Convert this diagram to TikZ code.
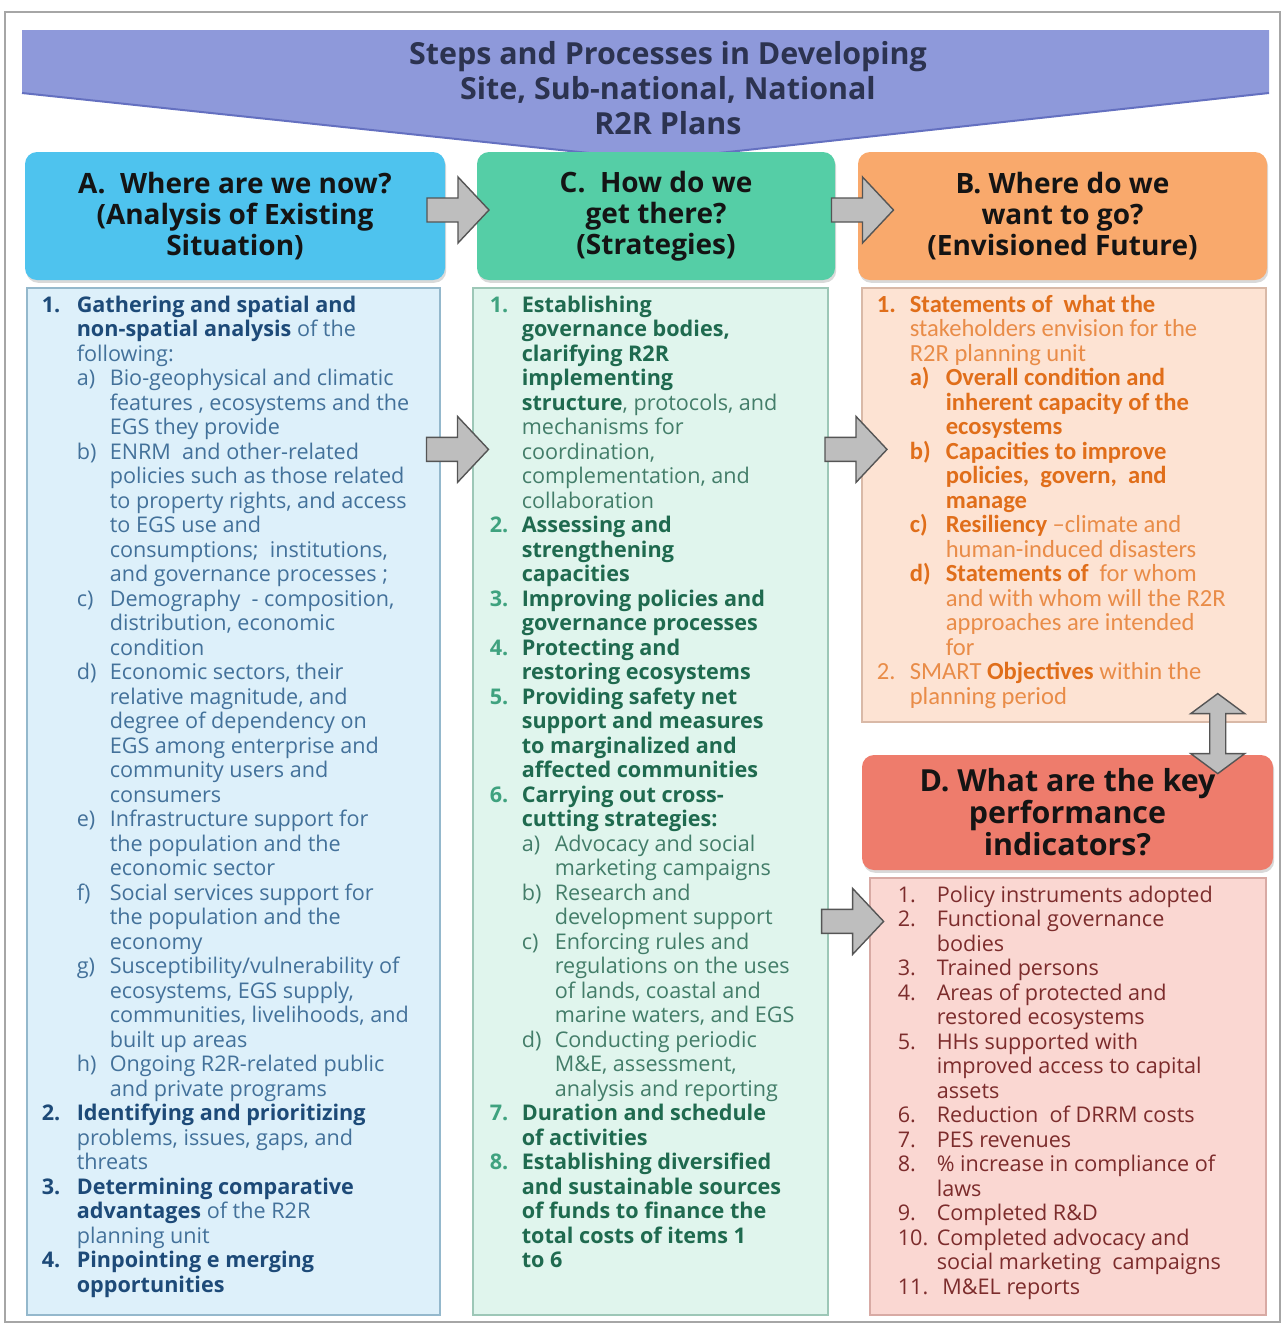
\documentclass[tikz,border=0pt]{standalone}
\usepackage{fontspec,xcolor}
\setmainfont{Open Sans}
\newfontfamily\calfont{Carlito}
\usetikzlibrary{calc, shadows}

\definecolor{bannerfill}{HTML}{8E99DA}
\definecolor{bannerline}{HTML}{6470C0}
\definecolor{titletext}{HTML}{2C3350}
\definecolor{hAfill}{HTML}{4EC3EE}
\definecolor{hCfill}{HTML}{55CEA6}
\definecolor{hBfill}{HTML}{F9A96C}
\definecolor{hDfill}{HTML}{EE7C6C}
\definecolor{bAfill}{HTML}{DDF0FA}
\definecolor{bAline}{HTML}{94B8CC}
\definecolor{bCfill}{HTML}{E0F5ED}
\definecolor{bCline}{HTML}{9DC7B7}
\definecolor{bBfill}{HTML}{FDE3D3}
\definecolor{bBline}{HTML}{D9B9A7}
\definecolor{bDfill}{HTML}{FAD7D2}
\definecolor{bDline}{HTML}{D8AAA4}
\definecolor{Adark}{HTML}{1D4A78}
\definecolor{Alight}{HTML}{43719A}
\definecolor{Cdark}{HTML}{1F6A4F}
\definecolor{Clight}{HTML}{437D69}
\definecolor{Cnum}{HTML}{3FA27F}
\definecolor{Bdark}{HTML}{E06E1A}
\definecolor{Blight}{HTML}{E98C48}
\definecolor{Dtext}{HTML}{7C2C2C}
\definecolor{arrowfill}{HTML}{BEBEBE}
\definecolor{arrowline}{HTML}{555555}
\colorlet{strong}{black}

\newlength{\nw}
\newlength{\sw}
\newcommand{\hl}[1]{{\bfseries\color{strong}#1}}
\newcommand{\numbold}[1]{\hl{#1}}
\newcommand{\numgreen}[1]{{\bfseries\color{Cnum}#1}}
\newcommand{\numplain}[1]{#1}
\let\numstyle\numplain
\newcommand{\nI}[2]{\makebox[\nw][l]{\numstyle{#1}}#2}
\newcommand{\nC}[1]{\hspace*{\nw}#1}
\newcommand{\sI}[2]{\hspace*{\nw}\makebox[\sw][l]{#1}#2}
\newcommand{\sC}[1]{\hspace*{\nw}\hspace*{\sw}#1}

\tikzset{
  hdr/.style={rounded corners=6pt, minimum height=64pt, align=center, text=black!92,
    font=\bfseries\fontsize{14}{15.5}\selectfont,
    drop shadow={shadow xshift=.6pt, shadow yshift=-1.4pt, opacity=.3}},
  bodybox/.style={draw, line width=.6pt, inner sep=0pt},
  listtext/.style={anchor=north west, inner sep=0pt, align=left,
    font=\fontsize{10.8}{12.25}\selectfont},
  listA/.style={listtext, text=Alight, execute at begin node={%
    \setlength{\nw}{17.5pt}\setlength{\sw}{16.5pt}\colorlet{strong}{Adark}\let\numstyle\numbold}},
  listC/.style={listtext, text=Clight, execute at begin node={%
    \setlength{\nw}{16pt}\setlength{\sw}{16.5pt}\colorlet{strong}{Cdark}\let\numstyle\numgreen}},
  listB/.style={listtext, text=Blight, font=\calfont\fontsize{12.3}{12.25}\selectfont,
    execute at begin node={%
    \setlength{\nw}{16.5pt}\setlength{\sw}{18pt}\colorlet{strong}{Bdark}\let\numstyle\numplain}},
  listD/.style={listtext, text=Dtext, execute at begin node={%
    \setlength{\nw}{19.5pt}\let\numstyle\numplain}},
  blk/.style={draw=arrowline, fill=arrowfill, line width=.7pt, line join=miter},
  blockarrow/.pic={\draw[blk] (-31,-12) -- (0,-12) -- (0,-33) -- (31,0) -- (0,33) -- (0,12) -- (-31,12) -- cycle;},
  updownarrow/.pic={\draw[blk] (0,-40) -- (27,-20) -- (8,-20) -- (8,20) -- (27,20) -- (0,40)
    -- (-27,20) -- (-8,20) -- (-8,-20) -- (-27,-20) -- cycle;}
}

\begin{document}
\begin{tikzpicture}[x=0.5pt, y=-0.5pt]
            \useasboundingbox (0,0) rectangle (1288,1324);
            \draw[gray!70, line width=.6pt] (5,12) rectangle (1280,1322);

            \fill[bannerfill] (22,30) -- (1269,30) -- (1269,93) -- (655,160) -- (22,93) -- cycle;
            \draw[bannerline, line width=1pt] (22,93) -- (655,160) -- (1269,93);
            \node[align=center, text=titletext, font=\bfseries\fontsize{15.2}{17.5}\selectfont] (title) at (668,88)
                {Steps and Processes in Developing\\Site, Sub-national, National\\R2R Plans};

            \node[hdr, fill=hAfill, minimum width=210pt] (hA) at (235,216)
                {A.\ \ Where are we now?\\(Analysis of Existing\\Situation)};
            \node[hdr, fill=hCfill, minimum width=179pt] (hC) at (656,216)
                {C.\ \ How do we\\get there?\\(Strategies)};
            \node[hdr, fill=hBfill, minimum width=204.5pt] (hB) at (1062.5,216)
                {B. Where do we\\want to go?\\(Envisioned Future)};

            \node[bodybox, draw=bAline, fill=bAfill, minimum width=206.5pt, minimum height=513.5pt] (bA) at (233.5,801.5) {};
            \node[bodybox, draw=bCline, fill=bCfill, minimum width=177.5pt, minimum height=513.5pt] (bC) at (650.5,801.5) {};
            \node[bodybox, draw=bBline, fill=bBfill, minimum width=202pt, minimum height=217pt] (bB) at (1064,505) {};
            \node[hdr, fill=hDfill, minimum width=205.5pt, minimum height=57.5pt,
                font=\bfseries\fontsize{15.2}{16}\selectfont] (hD) at (1067.5,812.5)
                {D. What are the key\\performance\\indicators?};
            \node[bodybox, draw=bDline, fill=bDfill, minimum width=198pt, minimum height=218.5pt] (bD) at (1068,1096.5) {};

            \node[listA] (tA) at ($(bA.north west)+(15,8)$) {%
                \nI{1.}{\hl{Gathering and spatial and}}\\
                \nC{\hl{non-spatial analysis} of the}\\
                \nC{following:}\\
                \sI{a)}{Bio-geophysical and climatic}\\
                \sC{features , ecosystems and the}\\
                \sC{EGS they provide}\\
                \sI{b)}{ENRM\ \ and other-related}\\
                \sC{policies such as those related}\\
                \sC{to property rights, and access}\\
                \sC{to EGS use and}\\
                \sC{consumptions;\ \ institutions,}\\
                \sC{and governance processes ;}\\
                \sI{c)}{Demography\ \ - composition,}\\
                \sC{distribution, economic}\\
                \sC{condition}\\
                \sI{d)}{Economic sectors, their}\\
                \sC{relative magnitude, and}\\
                \sC{degree of dependency on}\\
                \sC{EGS among enterprise and}\\
                \sC{community users and}\\
                \sC{consumers}\\
                \sI{e)}{Infrastructure support for}\\
                \sC{the population and the}\\
                \sC{economic sector}\\
                \sI{f)}{Social services support for}\\
                \sC{the population and the}\\
                \sC{economy}\\
                \sI{g)}{Susceptibility/vulnerability of}\\
                \sC{ecosystems, EGS supply,}\\
                \sC{communities, livelihoods, and}\\
                \sC{built up areas}\\
                \sI{h)}{Ongoing R2R-related public}\\
                \sC{and private programs}\\
                \nI{2.}{\hl{Identifying and prioritizing}}\\
                \nC{problems, issues, gaps, and}\\
                \nC{threats}\\
                \nI{3.}{\hl{Determining comparative}}\\
                \nC{\hl{advantages} of the R2R}\\
                \nC{planning unit}\\
                \nI{4.}{\hl{Pinpointing e merging}}\\
                \nC{\hl{opportunities}}};

            \node[listC] (tC) at ($(bC.north west)+(17,8)$) {%
                \nI{1.}{\hl{Establishing}}\\
                \nC{\hl{governance bodies,}}\\
                \nC{\hl{clarifying R2R}}\\
                \nC{\hl{implementing}}\\
                \nC{\hl{structure}, protocols, and}\\
                \nC{mechanisms for}\\
                \nC{coordination,}\\
                \nC{complementation, and}\\
                \nC{collaboration}\\
                \nI{2.}{\hl{Assessing and}}\\
                \nC{\hl{strengthening}}\\
                \nC{\hl{capacities}}\\
                \nI{3.}{\hl{Improving policies and}}\\
                \nC{\hl{governance processes}}\\
                \nI{4.}{\hl{Protecting and}}\\
                \nC{\hl{restoring ecosystems}}\\
                \nI{5.}{\hl{Providing safety net}}\\
                \nC{\hl{support and measures}}\\
                \nC{\hl{to marginalized and}}\\
                \nC{\hl{affected communities}}\\
                \nI{6.}{\hl{Carrying out cross-}}\\
                \nC{\hl{cutting strategies:}}\\
                \sI{a)}{Advocacy and social}\\
                \sC{marketing campaigns}\\
                \sI{b)}{Research and}\\
                \sC{development support}\\
                \sI{c)}{Enforcing rules and}\\
                \sC{regulations on the uses}\\
                \sC{of lands, coastal and}\\
                \sC{marine waters, and EGS}\\
                \sI{d)}{Conducting periodic}\\
                \sC{M\&E, assessment,}\\
                \sC{analysis and reporting}\\
                \nI{7.}{\hl{Duration and schedule}}\\
                \nC{\hl{of activities}}\\
                \nI{8.}{\hl{Establishing diversified}}\\
                \nC{\hl{and sustainable sources}}\\
                \nC{\hl{of funds to finance the}}\\
                \nC{\hl{total costs of items 1}}\\
                \nC{\hl{to 6}}};

            \node[listB] (tB) at ($(bB.north west)+(15,7)$) {%
                \nI{\hl{1.}}{\hl{Statements of\ \ what the}}\\
                \nC{stakeholders envision for the}\\
                \nC{R2R planning unit}\\
                \sI{\hl{a)}}{\hl{Overall condition and}}\\
                \sC{\hl{inherent capacity of the}}\\
                \sC{\hl{ecosystems}}\\
                \sI{\hl{b)}}{\hl{Capacities to improve}}\\
                \sC{\hl{policies,\ \ govern,\ \ and}}\\
                \sC{\hl{manage}}\\
                \sI{\hl{c)}}{\hl{Resiliency} –climate and}\\
                \sC{human-induced disasters}\\
                \sI{\hl{d)}}{\hl{Statements of}\ \ for whom}\\
                \sC{and with whom will the R2R}\\
                \sC{approaches are intended}\\
                \sC{for}\\
                \nI{2.}{SMART \hl{Objectives} within the}\\
                \nC{planning period}};

            \node[listD] (tD) at ($(bD.north west)+(28,8)$) {%
                \nI{1.}{Policy instruments adopted}\\
                \nI{2.}{Functional governance}\\
                \nC{bodies}\\
                \nI{3.}{Trained persons}\\
                \nI{4.}{Areas of protected and}\\
                \nC{restored ecosystems}\\
                \nI{5.}{HHs supported with}\\
                \nC{improved access to capital}\\
                \nC{assets}\\
                \nI{6.}{Reduction\ \ of DRRM costs}\\
                \nI{7.}{PES revenues}\\
                \nI{8.}{\% increase in compliance of}\\
                \nC{laws}\\
                \nI{9.}{Completed R\&D}\\
                \nI{10.}{Completed advocacy and}\\
                \nC{social marketing\ \ campaigns}\\
                \nI{11.}{\ M\&EL reports}};

            \pic at ($(hA.east)!.5!(hC.west)+(-3,-6)$) {blockarrow};
            \pic at ($(hC.east)!.5!(hB.west)+(16,-6)$) {blockarrow};
            \pic at ($(bA.north east)!.5!(bC.north west)+(1,162)$) {blockarrow};
            \pic at ($(bC.north east)!.5!(bB.north west)+(11,162)$) {blockarrow};
            \pic at ($(bC.north east |- bD.north)+(24,44)$) {blockarrow};
            \pic at ($(bB.south)!.5!(hD.north)+(152,-5)$) {updownarrow};
\end{tikzpicture}
\end{document}
